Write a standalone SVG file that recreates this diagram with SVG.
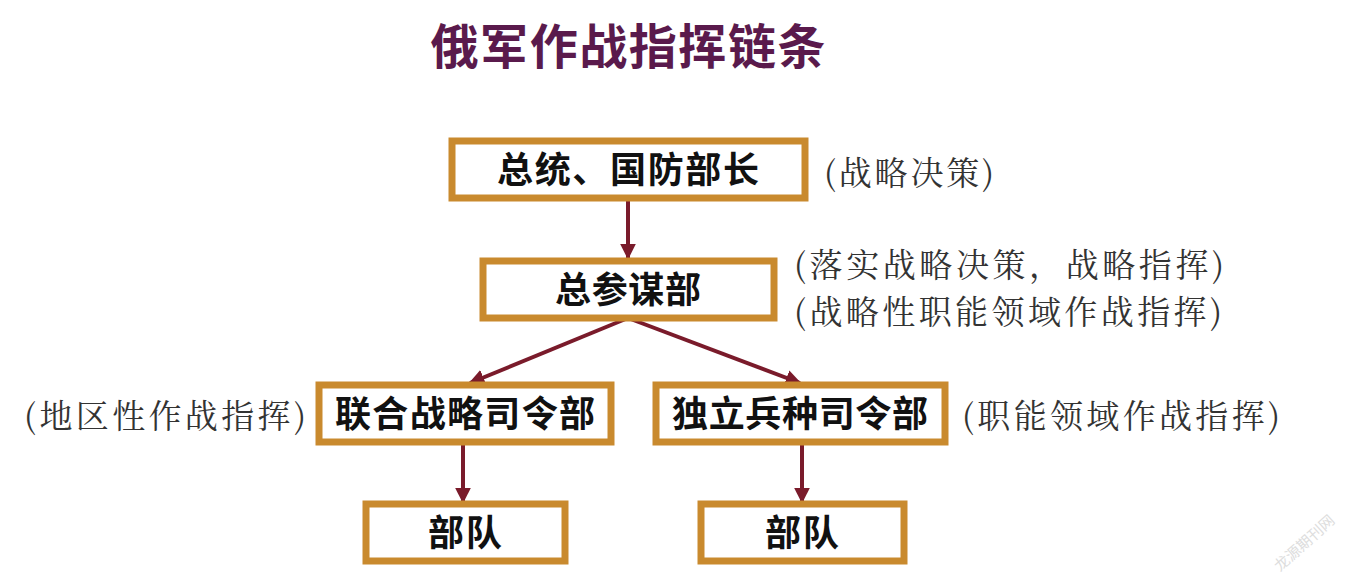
<svg xmlns="http://www.w3.org/2000/svg" width="1351" height="580" viewBox="0 0 1351 580">
<defs>
<style>
.box{fill:#fff;stroke:#c98a2e;stroke-width:7}
.bt{font-family:"Noto Sans CJK SC",sans-serif;font-weight:bold;font-size:36px;fill:#111;text-anchor:middle}
.lb{font-family:"Noto Serif CJK SC","Noto Sans CJK SC",serif;font-size:33px;fill:#333}
.ln{stroke:#7a1b2b;stroke-width:4;fill:none;marker-end:url(#ah)}
</style>
<marker id="ah" viewBox="0 0 10 10" refX="9" refY="5" markerWidth="4" markerHeight="4" orient="auto" markerUnits="strokeWidth"><path d="M0,0L10,5L0,10z" fill="#7a1b2b"/></marker>
</defs>
<rect width="1351" height="580" fill="#fff"/>
<text x="628" y="64" text-anchor="middle" font-family="Noto Sans CJK SC,sans-serif" font-weight="bold" font-size="48" fill="#5a1a4c" textLength="395">俄军作战指挥链条</text>
<g id="connectors">
<line class="ln" x1="628" y1="198" x2="628" y2="258"/>
<line class="ln" x1="628" y1="318" x2="470" y2="383"/>
<line class="ln" x1="628" y1="318" x2="800" y2="383"/>
<line class="ln" x1="463" y1="442" x2="463" y2="502"/>
<line class="ln" x1="802" y1="442" x2="802" y2="502"/>
</g>
<g id="n1"><rect class="box" x="452" y="141" width="353" height="57"/><text class="bt" x="628" y="183" textLength="262">总统、国防部长</text></g>
<g id="n2"><rect class="box" x="483" y="261" width="291" height="57"/><text class="bt" x="628" y="303" textLength="146">总参谋部</text></g>
<g id="n3"><rect class="box" x="319" y="385" width="292" height="57"/><text class="bt" x="465" y="427" textLength="260">联合战略司令部</text></g>
<g id="n4"><rect class="box" x="656" y="385" width="289" height="57"/><text class="bt" x="800" y="427" textLength="256">独立兵种司令部</text></g>
<g id="n5"><rect class="box" x="366" y="504" width="199" height="57"/><text class="bt" x="465" y="546" textLength="74">部队</text></g>
<g id="n6"><rect class="box" x="701" y="504" width="203" height="57"/><text class="bt" x="802" y="546" textLength="74">部队</text></g>
<text class="lb" x="824" y="185" textLength="170">(战略决策)</text>
<text class="lb" x="794" y="277" textLength="430">(落实战略决策，战略指挥)</text>
<text class="lb" x="794" y="324" textLength="428">(战略性职能领域作战指挥)</text>
<text class="lb" x="24" y="428" textLength="282">(地区性作战指挥)</text>
<text class="lb" x="962" y="428" textLength="318">(职能领域作战指挥)</text>
<text x="1280" y="572" font-family="Noto Sans CJK SC,sans-serif" font-size="15" fill="#ddd" transform="rotate(-42 1280 572)">龙源期刊网</text>
</svg>
